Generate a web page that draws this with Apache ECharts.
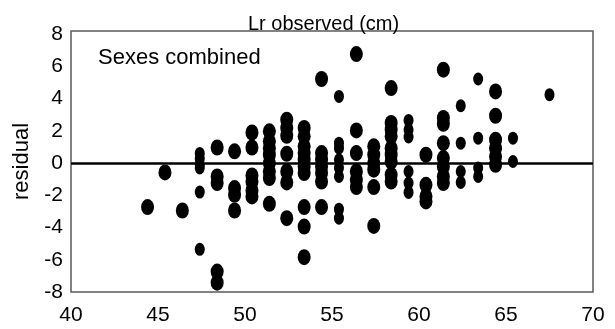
<!DOCTYPE html>
<html><head><meta charset="utf-8">
<script src="https://cdn.jsdelivr.net/npm/echarts@6/dist/echarts.min.js"></script>
<style>html,body{margin:0;padding:0;background:#fff}#c{width:615px;height:329px}</style>
</head><body><div id="c"></div>
<script>
// Wide (normal) markers
const wideX = [44.4,45.4,46.4,
  48.4,48.4,48.4,48.4,48.4,
  49.4,49.4,49.4,49.4,
  50.4,50.4,50.4,50.4,50.4,50.4,
  51.4,51.4,51.4,51.4,51.4,51.4,51.4,51.4,
  52.4,52.4,52.4,52.4,52.4,52.4,52.4,
  53.4,53.4,53.4,53.4,53.4,53.4,53.4,53.4,53.4,53.4,
  54.4,54.4,54.4,54.4,54.4,54.4,54.4,
  56.4,56.4,56.4,56.4,56.4,56.4,
  57.4,57.4,57.4,57.4,57.4,57.4,
  58.4,58.4,58.4,58.4,58.4,58.4,58.4,58.4,58.4,
  60.4,60.4,60.4,60.4,
  61.4,61.4,61.4,61.4,61.4,61.4,61.4,61.4,
  64.4,64.4,64.4,64.4,64.4,64.4];
const wideY = [-2.73,-0.58,-2.94,
  0.97,-0.83,-1.24,-6.73,-7.42,
  0.73,-1.55,-1.97,-2.94,
  1.9,0.97,-0.77,-1.14,-1.7,-2.07,
  1.97,1.35,0.93,0.52,0,-0.52,-0.93,-2.53,
  2.69,2.18,1.7,0.58,-0.52,-1.2,-3.42,
  2.18,1.66,1.04,0.62,0.21,-0.21,-0.62,-2.73,-3.94,-5.84,
  5.22,0.62,0.21,-0.21,-0.62,-1.14,-2.73,
  6.77,2.03,0.62,-0.52,-1.04,-1.49,
  1.04,0.52,0,-0.41,-1.49,-3.9,
  4.66,2.49,2.07,1.66,0.93,0.52,0.1,-0.73,-1.14,
  0.52,-1.35,-2.07,-2.38,
  5.8,2.8,2.44,1.24,0.31,-0.21,-0.83,-1.24,
  4.45,2.94,1.45,0.93,0.41,-0.1];
// Narrow markers
const narrowX = [47.4,47.4,47.4,47.4,47.4,47.4,
  55.4,55.4,55.4,55.4,55.4,55.4,55.4,55.4,
  59.4,59.4,59.4,59.4,59.4,59.4,
  62.4,62.4,62.4,62.4,
  63.4,63.4,63.4,63.4,
  65.4,65.4,
  67.5];
const narrowY = [0.6,0.25,-0.1,-0.3,-1.8,-5.35,
  4.14,1.24,0.93,0.21,-0.31,-0.83,-2.86,-3.42,
  2.65,2.07,1.62,-0.52,-1.24,-1.82,
  3.56,1.24,-0.52,-1.2,
  5.22,1.55,-0.31,-0.83,
  1.55,0.1,
  4.25];
const xTicks = [40,45,50,55,60,65,70];
const yTicks = [-8,-6,-4,-2,0,2,4,6,8];

const ell = 'path://M0,10A10,10 0 1,1 20,10A10,10 0 1,1 0,10Z';
const FONT = "'Liberation Sans', Arial, sans-serif";
const chart = echarts.init(document.getElementById('c'), null, {renderer:'canvas'});
chart.setOption({
  animation:false,
  backgroundColor:'#fff',
  title:{text:'Lr observed (cm)', left:243, top:9,
    textStyle:{fontFamily:FONT, fontSize:20, fontWeight:'normal', color:'#000'}},
  graphic:[{type:'text', left:98, top:47,
    style:{text:'Sexes combined', font:"22px 'Liberation Sans', Arial, sans-serif", fill:'#000'}}],
  grid:{left:71, right:22, top:31, bottom:37, show:true, borderColor:'#5a5a5a', borderWidth:1.5, backgroundColor:'transparent'},
  xAxis:{type:'value', min:xTicks[0], max:xTicks[xTicks.length-1], interval:5,
    axisLine:{show:false}, axisTick:{show:false}, splitLine:{show:false},
    axisLabel:{fontFamily:FONT, fontSize:21, color:'#000', margin:13}},
  yAxis:{type:'value', min:yTicks[0], max:8.2, interval:2,
    name:'residual', nameLocation:'middle', nameGap:37, nameRotate:90,
    nameTextStyle:{fontFamily:FONT, fontSize:22, color:'#000'},
    axisLine:{show:false}, axisTick:{show:false}, splitLine:{show:false},
    axisLabel:{fontFamily:FONT, fontSize:21, color:'#000', margin:8,
      formatter:v => (yTicks.indexOf(v) >= 0 ? String(v) : '')}},
  series:[
    {type:'scatter', symbol:ell, symbolSize:[13,16], itemStyle:{color:'#000', opacity:1},
      data: wideX.map((x,i)=>[x, wideY[i]]),
      markLine:{silent:true, symbol:'none', label:{show:false},
        lineStyle:{color:'#000', width:2.6, type:'solid'}, data:[{yAxis:0}]}},
    {type:'scatter', symbol:ell, symbolSize:[10,13], itemStyle:{color:'#000', opacity:1},
      data: narrowX.map((x,i)=>[x, narrowY[i]])}
  ]
});
</script></body></html>
